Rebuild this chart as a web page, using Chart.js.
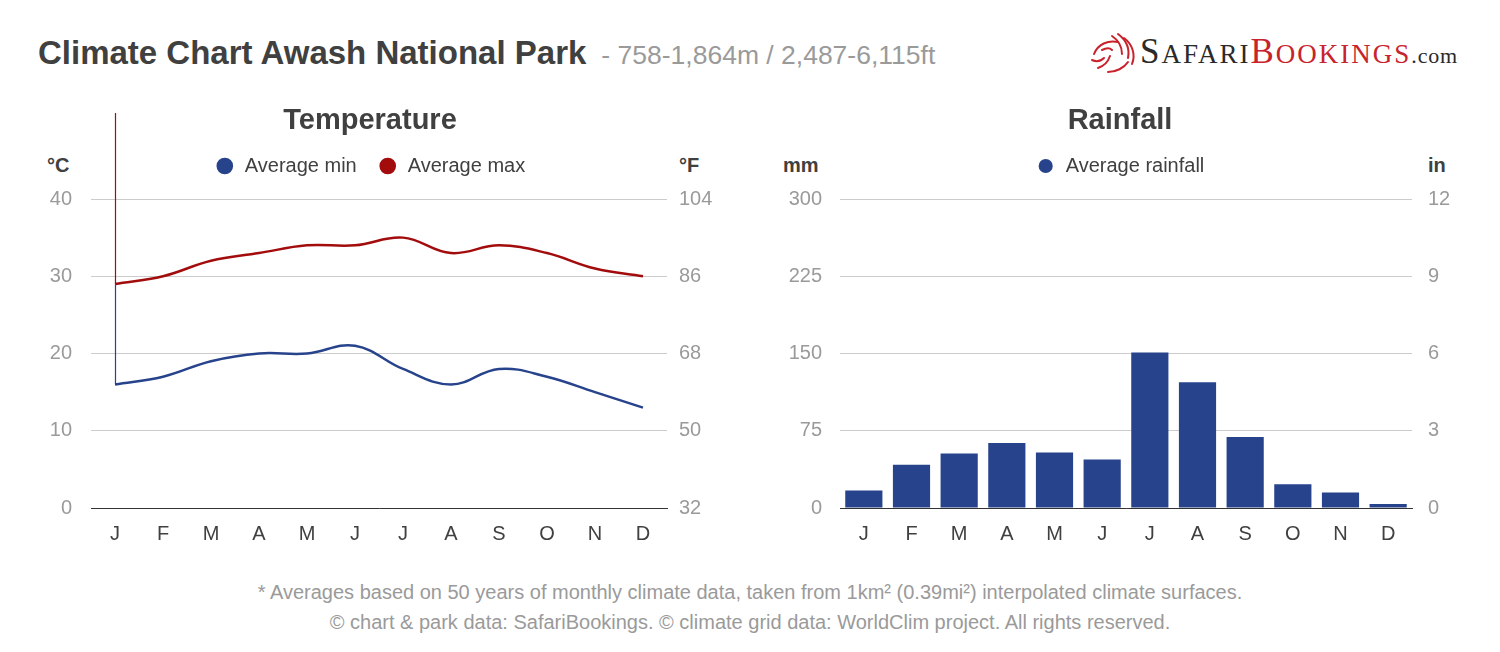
<!DOCTYPE html>
<html>
<head>
<meta charset="utf-8">
<title>Climate Chart Awash National Park</title>
<script src="https://cdn.jsdelivr.net/npm/chart.js@4"></script>
<style>
  body { margin: 0; background: #fff; font-family: "Liberation Sans", Arial, sans-serif; }
  #page { position: relative; width: 1500px; height: 652px; overflow: hidden; }
  #titulo { position: absolute; left: 38px; top: 33px; line-height: 40px; font-size: 33px; font-weight: bold; color: #404040; white-space: nowrap; }
  #titulo span { font-size: 26.5px; font-weight: normal; color: #9a9a9a; margin-left: 15px; }
  #logo { position: absolute; left: 1088px; top: 30px; height: 46px; white-space: nowrap; }
  #logo svg { position: absolute; left: 0; top: 2px; }
  #logo .txt { position: absolute; left: 52px; top: 2px; font-family: "Liberation Serif", "DejaVu Serif", serif; color: #2a2a2a; letter-spacing: 2px; line-height: 40px; }
  #logo .big { font-size: 35px; }
  #logo .sc { font-size: 27px; }
  #logo .red { color: #c8232c; }
  #logo .com { font-size: 22px; letter-spacing: 0.8px; }
  .unidad { position: absolute; top: 153px; font-size: 20px; font-weight: bold; color: #404040; line-height: 24px; }
  .nota { position: absolute; left: 0; width: 1500px; text-align: center; font-size: 20px; line-height: 24px; color: #9a9a9a; }
  canvas { position: absolute; }
</style>
</head>
<body>
<div id="page">
  <div id="titulo">Climate Chart Awash National Park<span>- 758-1,864m / 2,487-6,115ft</span></div>
  <div id="logo">
    <svg width="50" height="44" viewBox="0 0 50 44">
      <g fill="none" stroke="#c8232c" stroke-width="2" stroke-linecap="round">
        <path d="M6 22 C10 12 20 8 30 10"/>
        <path d="M4 28 C8 30 12 30 16 26"/>
        <path d="M10 36 C16 34 20 30 22 24"/>
        <path d="M24 4 C30 8 34 14 34 22"/>
        <path d="M30 2 C38 8 42 16 40 26"/>
        <path d="M36 6 C44 12 48 22 44 32"/>
        <path d="M20 40 C28 40 36 36 40 30"/>
        <path d="M14 18 C18 16 22 16 24 18"/>
      </g>
    </svg>
    <div class="txt"><span class="big">S</span><span class="sc">AFARI</span><span class="red"><span class="big">B</span><span class="sc">OOKINGS</span></span><span class="com">.com</span></div>
  </div>

  <div class="unidad" style="left:47px">°C</div>
  <div class="unidad" style="left:679px">°F</div>
  <div class="unidad" style="left:783px">mm</div>
  <div class="unidad" style="left:1428px">in</div>

  <canvas id="temperatura" style="left:0px; top:96px; width:740px; height:464px;"></canvas>
  <canvas id="lluvia" style="left:740px; top:96px; width:760px; height:464px;"></canvas>

  <div class="nota" style="top:580px">* Averages based on 50 years of monthly climate data, taken from 1km² (0.39mi²) interpolated climate surfaces.</div>
  <div class="nota" style="top:610px">© chart &amp; park data: SafariBookings. © climate grid data: WorldClim project. All rights reserved.</div>
</div>

<script>
// Datos del gráfico
const meses = ["J", "F", "M", "A", "M", "J", "J", "A", "S", "O", "N", "D"];
const tempMin = [16, 17, 19, 20, 20, 21, 18, 16, 18, 17, 15, 13];
const tempMax = [29, 30, 32, 33, 34, 34, 35, 33, 34, 33, 31, 30];
const lluviaMm = [17, 42, 53, 63, 54, 47, 151, 122, 69, 23, 15, 4];
const ticksCelsius = [0, 10, 20, 30, 40];
const ticksFahrenheit = [32, 50, 68, 86, 104];
const ticksMm = [0, 75, 150, 225, 300];
const ticksPulgadas = [0, 3, 6, 9, 12];

const azul = "#27438c";
const rojo = "#a30c0c";
const gris = "#9a9a9a";
const oscuro = "#404040";
const fuente = "'Liberation Sans', Arial, sans-serif";

// Deja más espacio entre la leyenda y el gráfico
const margenLeyenda = {
  id: "margenLeyenda",
  beforeInit(chart) {
    const fitOriginal = chart.legend.fit;
    chart.legend.fit = function () {
      fitOriginal.bind(chart.legend)();
      this.height += 13;
    };
  },
};

// Línea vertical en el primer punto (aparece así en el original)
const lineaInicio = {
  id: "lineaInicio",
  afterDatasetsDraw(chart) {
    const ctx = chart.ctx;
    const puntoMax = chart.getDatasetMeta(1).data[0];
    const puntoMin = chart.getDatasetMeta(0).data[0];
    const x = Math.round(puntoMax.x) + 0.5;
    ctx.save();
    ctx.lineWidth = 1.2;
    ctx.strokeStyle = rojo;
    ctx.beginPath();
    ctx.moveTo(x, chart.chartArea.top - 86);
    ctx.lineTo(x, puntoMax.y);
    ctx.stroke();
    ctx.strokeStyle = azul;
    ctx.beginPath();
    ctx.moveTo(x, puntoMax.y);
    ctx.lineTo(x, puntoMin.y);
    ctx.stroke();
    ctx.restore();
  },
};

function ejeY(posicion, min, max, paso, ticks, ancho, relleno, conGrid) {
  return {
    type: "linear",
    position: posicion,
    min: min,
    max: max,
    afterBuildTicks: (eje) => {
      eje.ticks = ticks.map((v) => ({ value: v }));
    },
    afterFit: (eje) => {
      eje.width = ancho;
    },
    border: { display: false },
    grid: {
      display: conGrid,
      drawTicks: false,
      color: "#cccccc",
      lineWidth: 1,
    },
    ticks: {
      stepSize: paso,
      padding: relleno,
      color: gris,
      font: { family: fuente, size: 20 },
    },
  };
}

function ejeX() {
  return {
    offset: true,
    grid: { display: false, drawTicks: false },
    border: { display: true, color: "#333333", width: 1 },
    ticks: {
      padding: 14,
      color: oscuro,
      font: { family: fuente, size: 20 },
    },
  };
}

function opcionesComunes(titulo) {
  return {
    responsive: false,
    animation: false,
    devicePixelRatio: 1,
    layout: { padding: 0 },
    plugins: {
      title: {
        display: true,
        text: titulo,
        color: oscuro,
        font: { family: fuente, size: 29, weight: "bold", lineHeight: 1 },
        padding: { top: 10, bottom: 0 },
      },
      legend: {
        display: true,
        labels: {
          usePointStyle: true,
          pointStyle: "circle",
          boxWidth: 20,
          boxHeight: 10,
          padding: 21,
          color: oscuro,
          font: { family: fuente, size: 20 },
        },
      },
      tooltip: { enabled: false },
    },
  };
}

function dibujarTemperatura() {
  const lienzo = document.getElementById("temperatura");
  lienzo.width = 740;
  lienzo.height = 464;
  const opciones = opcionesComunes("Temperature");
  opciones.scales = {
    x: ejeX(),
    y: ejeY("left", 0, 40, 10, ticksCelsius, 91, 19, true),
    y1: ejeY("right", 32, 104, 18, ticksFahrenheit, 73, 12, false),
  };
  new Chart(lienzo, {
    type: "line",
    data: {
      labels: meses,
      datasets: [
        {
          label: "Average min",
          data: tempMin,
          borderColor: azul,
          backgroundColor: azul,
          borderWidth: 2.5,
          pointRadius: 0,
          tension: 0.4,
          yAxisID: "y",
        },
        {
          label: "Average max",
          data: tempMax,
          borderColor: rojo,
          backgroundColor: rojo,
          borderWidth: 2.5,
          pointRadius: 0,
          tension: 0.4,
          yAxisID: "y",
        },
      ],
    },
    options: opciones,
    plugins: [margenLeyenda, lineaInicio],
  });
}

function dibujarLluvia() {
  const lienzo = document.getElementById("lluvia");
  lienzo.width = 760;
  lienzo.height = 464;
  const opciones = opcionesComunes("Rainfall");
  opciones.scales = {
    x: ejeX(),
    y: ejeY("left", 0, 300, 75, ticksMm, 100, 18, true),
    y1: ejeY("right", 0, 12, 3, ticksPulgadas, 88, 16, false),
  };
  new Chart(lienzo, {
    type: "bar",
    data: {
      labels: meses,
      datasets: [
        {
          label: "Average rainfall",
          data: lluviaMm,
          backgroundColor: azul,
          borderWidth: 0,
          categoryPercentage: 0.78,
          barPercentage: 1,
          yAxisID: "y",
        },
      ],
    },
    options: opciones,
    plugins: [margenLeyenda],
  });
}

dibujarTemperatura();
dibujarLluvia();
</script>
</body>
</html>
